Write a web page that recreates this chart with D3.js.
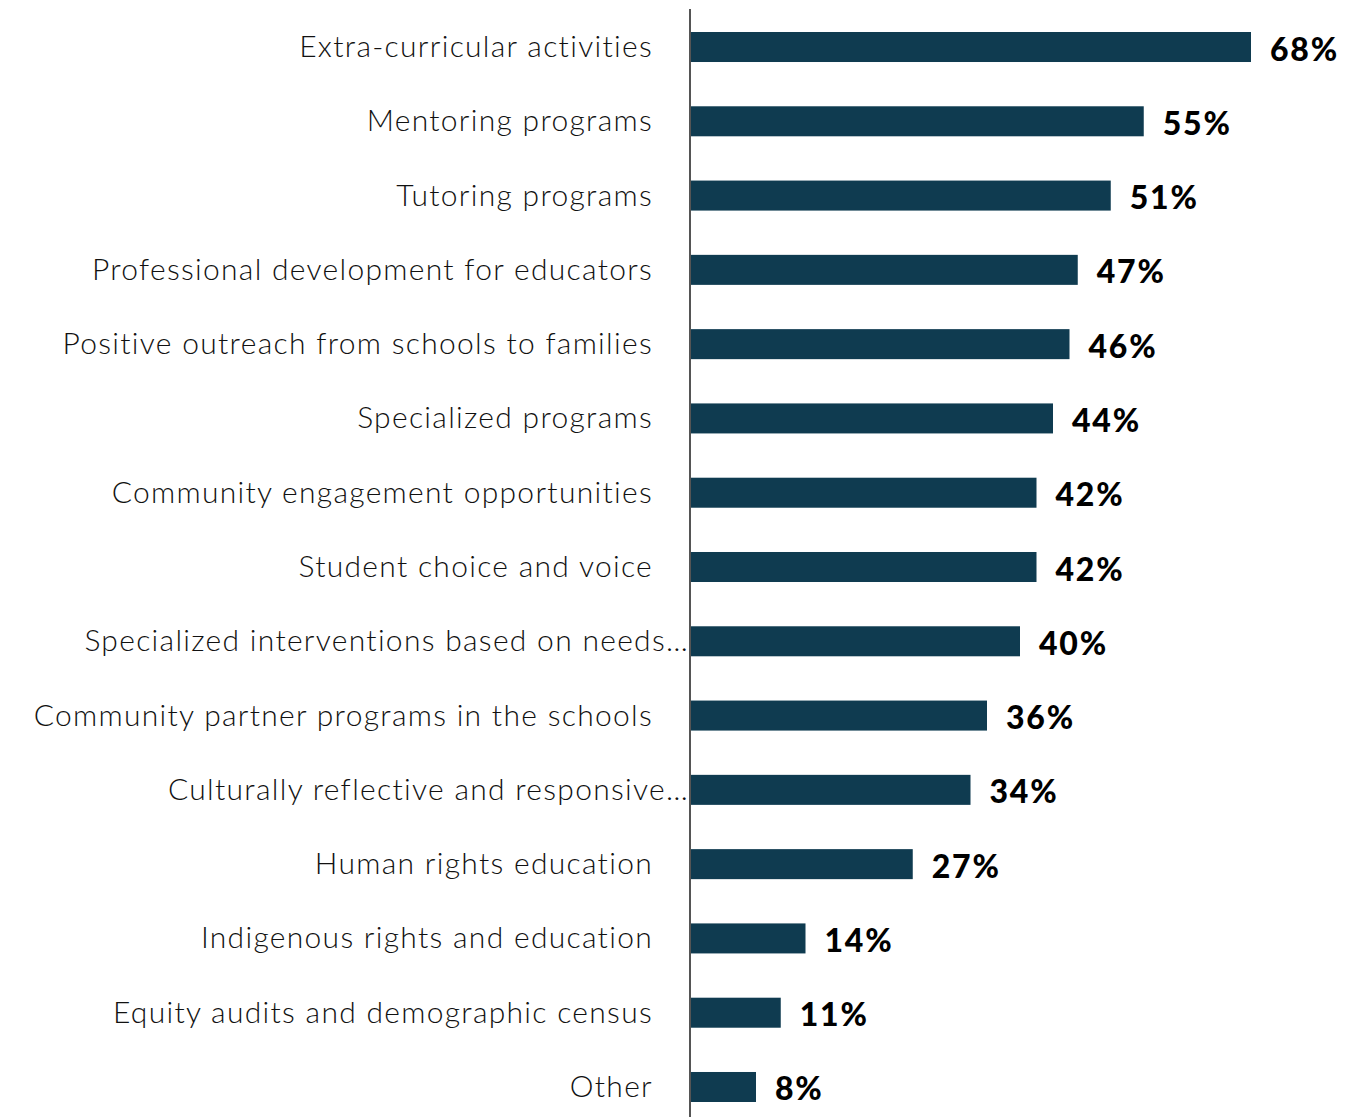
<!DOCTYPE html>
<html>
<head>
<meta charset="utf-8">
<script src="https://cdn.jsdelivr.net/npm/d3@7"></script>
<style>
  html, body { margin: 0; padding: 0; background: #fff; }
  svg { display: block; }
</style>
</head>
<body>
<svg id="chart" width="1356" height="1117"></svg>
<script>
// Share of respondents selecting each approach
const categories = [
  "Extra-curricular activities",
  "Mentoring programs",
  "Tutoring programs",
  "Professional development for educators",
  "Positive outreach from schools to families",
  "Specialized programs",
  "Community engagement opportunities",
  "Student choice and voice",
  "Specialized interventions based on needs…",
  "Community partner programs in the schools",
  "Culturally reflective and responsive…",
  "Human rights education",
  "Indigenous rights and education",
  "Equity audits and demographic census",
  "Other"
];
const values = [68, 55, 51, 47, 46, 44, 42, 42, 40, 36, 34, 27, 14, 11, 8];

const svg = d3.select("#chart");
const axisX = 690;
const plotTop = 32, plotBottom = 1102, chartBottom = 1117;

const x = d3.scaleLinear().domain([0, 68]).range([axisX, 1251]);
const y = d3.scaleBand().domain(categories).range([plotTop, plotBottom])
  .paddingInner(0.596).paddingOuter(0);

const barColor = "#0f3b50";

svg.selectAll("rect.bar")
  .data(values)
  .enter().append("rect")
  .attr("class", "bar")
  .attr("x", x(0))
  .attr("y", (d, i) => y(categories[i]))
  .attr("width", d => x(d) - x(0))
  .attr("height", y.bandwidth())
  .attr("fill", barColor);

// Category labels, right-aligned against the axis; truncated ones run up to it
svg.selectAll("text.cat")
  .data(categories)
  .enter().append("text")
  .attr("class", "cat")
  .attr("x", d => d.endsWith("…") ? axisX - 1 : axisX - 37)
  .attr("y", d => y(d) + y.bandwidth() / 2 - 2)
  .attr("text-anchor", "end")
  .attr("dominant-baseline", "central")
  .attr("font-family", "Lato, 'Noto Sans', sans-serif")
  .attr("font-weight", 300)
  .attr("font-size", 30)
  .attr("letter-spacing", 1.3)
  .attr("fill", "#111")
  .text(d => d);

// Value labels at bar ends
svg.selectAll("text.val")
  .data(values)
  .enter().append("text")
  .attr("class", "val")
  .attr("x", d => x(d) + 19)
  .attr("y", (d, i) => y(categories[i]) + y.bandwidth() / 2 + 1)
  .attr("dominant-baseline", "central")
  .attr("font-family", "Lato, 'Noto Sans', sans-serif")
  .attr("font-weight", 900)
  .attr("font-size", 32)
  .attr("letter-spacing", 1.8)
  .attr("fill", "#000")
  .text(d => d + "%");

// Vertical category axis line
svg.append("line")
  .attr("x1", axisX).attr("x2", axisX)
  .attr("y1", 9).attr("y2", chartBottom)
  .attr("stroke", "#555")
  .attr("stroke-width", 2);
</script>
</body>
</html>
